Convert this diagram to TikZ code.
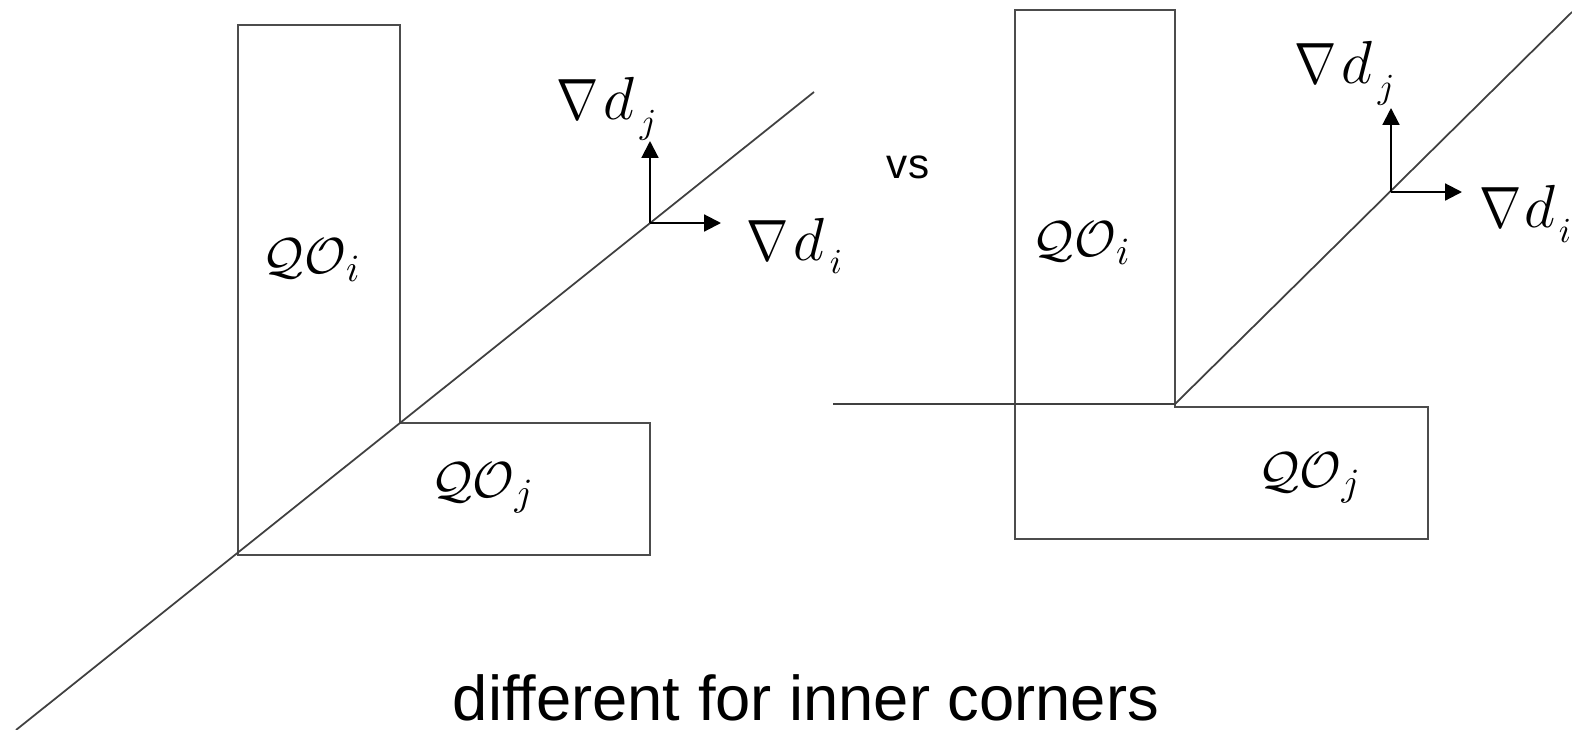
\documentclass[tikz,border=0pt]{standalone}
\usepackage{fontspec}
\newfontfamily\capfont{Liberation Sans}
\usetikzlibrary{arrows.meta}
\newcommand{\gradlab}[3][0.5mm]{{\fontsize{13.5}{16}\selectfont\scalebox{1}[1.15]{$\nabla$}}\hspace{#1}%
  {\fontsize{17}{20}\selectfont$d$}\hspace{#1}%
  \raisebox{#3}{\fontsize{10}{12}\selectfont$#2$}}
\tikzset{
  outln/.style={line width=0.5pt, black!70},
  cutln/.style={line width=0.5pt, black!75},
  vec/.style={-{Triangle[length=4.8pt,width=4.8pt]}, line width=0.6pt},
  qolbl/.style={font=\fontsize{15}{17}\selectfont, inner sep=0pt},
  gradlbl/.style={inner sep=0pt, anchor=base west},
}

\begin{document}
\begin{tikzpicture}[x=0.01cm,y=-0.01cm]
    \useasboundingbox (0,0) rectangle (1572,730);
    % left: straight cut through the inner corner
    \coordinate (Ltl) at (238,25);
    \coordinate (Ltr) at (400,25);
    \coordinate (Lc) at (400,423);
    \coordinate (Lr) at (650,423);
    \coordinate (Lbr) at (650,555);
    \coordinate (Lbl) at (238,555);
    \draw[outln] (Ltl) -- (Ltr) -- (Lc) -- (Lr) -- (Lbr) -- (Lbl) -- cycle;
    \coordinate (La) at (16,730);
    \coordinate (Lb) at (814,92);
    \draw[cutln] (La) -- (Lb);
    \node[qolbl] (Lqoi) at (312,260) {$\mathcal{QO}_i$};
    \node[qolbl] (Lqoj) at (483,488) {$\mathcal{QO}_j$};
    % left gradients
    \coordinate (Lo) at (650,223);
    \coordinate (Lgj) at (650,141);
    \coordinate (Lgi) at (721,223);
    \draw[vec] (Lo) -- (Lgj);
    \draw[vec] (Lo) -- (Lgi);
    \node[gradlbl] (Ldj) at (556,119) {\gradlab{j}{-1.4mm}};
    \node[gradlbl] (Ldi) at (746,260) {\gradlab{i}{-1.3mm}};
    % middle
    \node[font=\capfont\fontsize{12}{14}\selectfont, inner sep=0pt] (vs) at (908,167) {vs};
    % right: bent cut at the inner corner
    \coordinate (Rtl) at (1015,10);
    \coordinate (Rtr) at (1175,10);
    \coordinate (Rc) at (1175,407);
    \coordinate (Rr) at (1428,407);
    \coordinate (Rbr) at (1428,539);
    \coordinate (Rbl) at (1015,539);
    \draw[outln] (Rtl) -- (Rtr) -- (Rc) -- (Rr) -- (Rbr) -- (Rbl) -- cycle;
    \coordinate (Rk) at (1175,404);
    \coordinate (Ra) at (833,404);
    \coordinate (Rb) at (1572,12);
    \draw[cutln] (Ra) -- (Rk) -- (Rb);
    \node[qolbl] (Rqoi) at (1082,243) {$\mathcal{QO}_i$};
    \node[qolbl] (Rqoj) at (1310,478) {$\mathcal{QO}_j$};
    % right gradients
    \coordinate (Ro) at (1391,192);
    \coordinate (Rgj) at (1391,108);
    \coordinate (Rgi) at (1462,192);
    \draw[vec] (Ro) -- (Rgj);
    \draw[vec] (Ro) -- (Rgi);
    \node[gradlbl] (Rdj) at (1294,83) {\gradlab{j}{-1.5mm}};
    \node[gradlbl] (Rdi) at (1479,227) {\gradlab[0.3mm]{i}{-1.5mm}};
    % caption
    \node[font=\capfont\fontsize{18}{20}\selectfont, inner sep=0pt, anchor=base] (cap) at (806,720) {different for inner corners};
\end{tikzpicture}
\end{document}
